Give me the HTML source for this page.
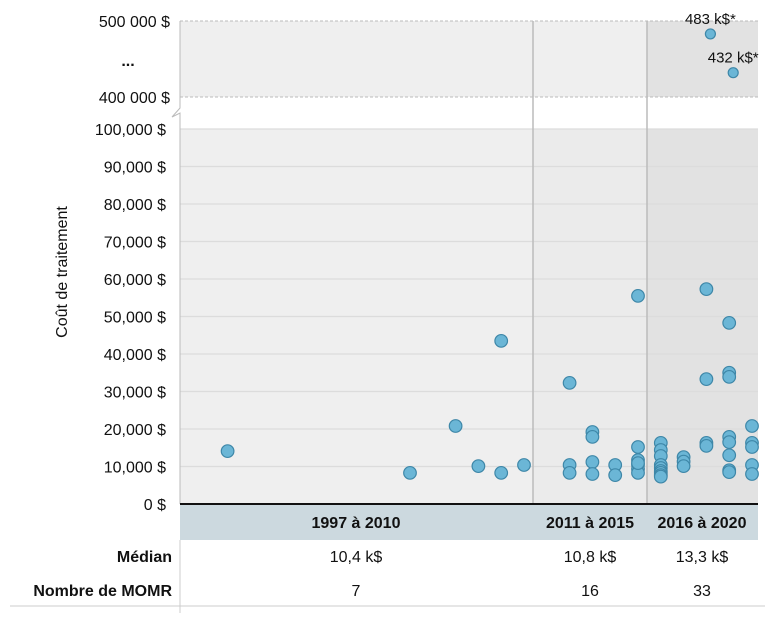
<!DOCTYPE html>
<html><head><meta charset="utf-8"><style>
html,body{margin:0;padding:0;background:#fff;}
svg text{font-family:"Liberation Sans",sans-serif;}
</style></head><body>
<svg id="c" width="772" height="613" xmlns="http://www.w3.org/2000/svg"></svg>
<script>
const periods=["1997 à 2010","2011 à 2015","2016 à 2020"];
const medians=["10,4 k$","10,8 k$","13,3 k$"];
const counts=["7","16","33"];
const yTicks=[0,10000,20000,30000,40000,50000,60000,70000,80000,90000,100000];
const yTickLabels=["0 $","10,000 $","20,000 $","30,000 $","40,000 $","50,000 $","60,000 $","70,000 $","80,000 $","90,000 $","100,000 $"];
// x slot index and cost values
const ptSlot=[2,10,12,13,14,14,15, 17,17,17,18,18,18,18,19,19,20,20,20,20,20,20,20, 21,21,21,21,21,21,21,21,21,22,22,22,23,23,23,23,24,24,24,24,24,24,24,24,25,25,25,25,25];
const ptVal=[14100,8300,20800,10100,8300,43500,10400, 32300,10400,8300,19200,17900,11200,8000,10400,7700,55500,15200,11700,10400,9300,8300,10900,
16300,14400,12800,10400,9600,8800,8300,7700,7300,12500,11300,10100,57300,33300,16300,15500,48300,35000,33900,17900,16500,13000,9000,8500,20800,16300,15200,10400,8000];
const outSlot=[23,24];
const outVal=[483000,432000];
const outLabels=["483 k$*","432 k$*"];

const S=document.getElementById('c');const NS="http://www.w3.org/2000/svg";
function el(t,a,p){const e=document.createElementNS(NS,t);for(const k in a)e.setAttribute(k,a[k]);(p||S).appendChild(e);return e;}
const X0=180,X1=758,Y0=504,Y100=129;
const y=v=>Y0-(v/100000)*(Y0-Y100);
const yTop=v=>21+(500000-v)/100000*76;
const x=s=>X0+2+ s*22.8 ;
let r=el('rect',{x:X0,y:129,width:353,height:375,fill:'#efefef'});
r=el('rect',{x:533,y:129,width:114,height:375,fill:'#ebebeb'});
r=el('rect',{x:647,y:129,width:111,height:375,fill:'#e2e2e2'});
r=el('rect',{x:X0,y:21,width:467,height:76,fill:'#efefef'});
r=el('rect',{x:647,y:21,width:111,height:76,fill:'#e2e2e2'});
el('line',{x1:X0,y1:21,x2:X1,y2:21,stroke:'#bbb','stroke-dasharray':'3,2'});
el('line',{x1:X0,y1:97,x2:X1,y2:97,stroke:'#bbb','stroke-dasharray':'3,2'});
yTicks.forEach((v,i)=>{
 if(i>0){const g=el('line',{x1:X0,y1:y(v),x2:X1,y2:y(v),stroke:'#dcdcdc','stroke-width':1.2});}
 const t=el('text',{x:166,y:y(v)+6,'text-anchor':'end','font-size':16,fill:'#111'});t.textContent=yTickLabels[i];
 
});
[[500000,"500 000 $"],[400000,"400 000 $"]].forEach(a=>{const t=el('text',{x:170,y:yTop(a[0])+6,'text-anchor':'end','font-size':16,fill:'#111'});t.textContent=a[1];});
let d=el('text',{x:128,y:66,'text-anchor':'middle','font-size':16,'font-weight':'bold',fill:'#111'});d.textContent="...";
el('polyline',{points:`${X0},21 ${X0},108 ${X0-8},117 ${X0},113 ${X0},504`,fill:'none',stroke:'#bbb'});
el('line',{x1:533,y1:21,x2:533,y2:540,stroke:'#bbb','stroke-width':1.5});
el('line',{x1:647,y1:21,x2:647,y2:540,stroke:'#bbb','stroke-width':1.5});
let yt=el('text',{x:67,y:272,'text-anchor':'middle','font-size':16,fill:'#111',transform:'rotate(-90 67 272)'});yt.textContent="Coût de traitement";
ptVal.forEach((v,i)=>{const c=el('circle',{cx:x(ptSlot[i]),cy:y(v),r:6.3,fill:'#6bb6d6',stroke:'#3e87a8','stroke-width':1.2});
 });
outVal.forEach((v,i)=>{const c=el('circle',{cx:x(outSlot[i])+4,cy:yTop(v),r:5,fill:'#6bb6d6',stroke:'#3e87a8','stroke-width':1.2});
 
 const t=el('text',{x:x(outSlot[i])+4,y:yTop(v)-10,'text-anchor':'middle','font-size':15,fill:'#111'});t.textContent=outLabels[i];
 });
r=el('rect',{x:X0,y:505,width:X1-X0,height:35,fill:'#ccd9df'});
el('line',{x1:X0,y1:504,x2:X1,y2:504,stroke:'#111','stroke-width':2});
const cx=[356,590,702];
periods.forEach((p,i)=>{
 let t=el('text',{x:cx[i],y:528,'text-anchor':'middle','font-size':16,'font-weight':'bold',fill:'#111'});t.textContent=p;
 t=el('text',{x:cx[i],y:562,'text-anchor':'middle','font-size':16,fill:'#111'});t.textContent=medians[i];
 t=el('text',{x:cx[i],y:596,'text-anchor':'middle','font-size':16,fill:'#111'});t.textContent=counts[i];
});
let t=el('text',{x:172,y:562,'text-anchor':'end','font-size':16,'font-weight':'bold',fill:'#111'});t.textContent="Médian";
t=el('text',{x:172,y:596,'text-anchor':'end','font-size':16,'font-weight':'bold',fill:'#111'});t.textContent="Nombre de MOMR";
el('line',{x1:10,y1:606,x2:765,y2:606,stroke:'#ddd','stroke-width':1.5});
el('line',{x1:X0,y1:540,x2:X0,y2:613,stroke:'#ccc'});
</script>
</body></html>
